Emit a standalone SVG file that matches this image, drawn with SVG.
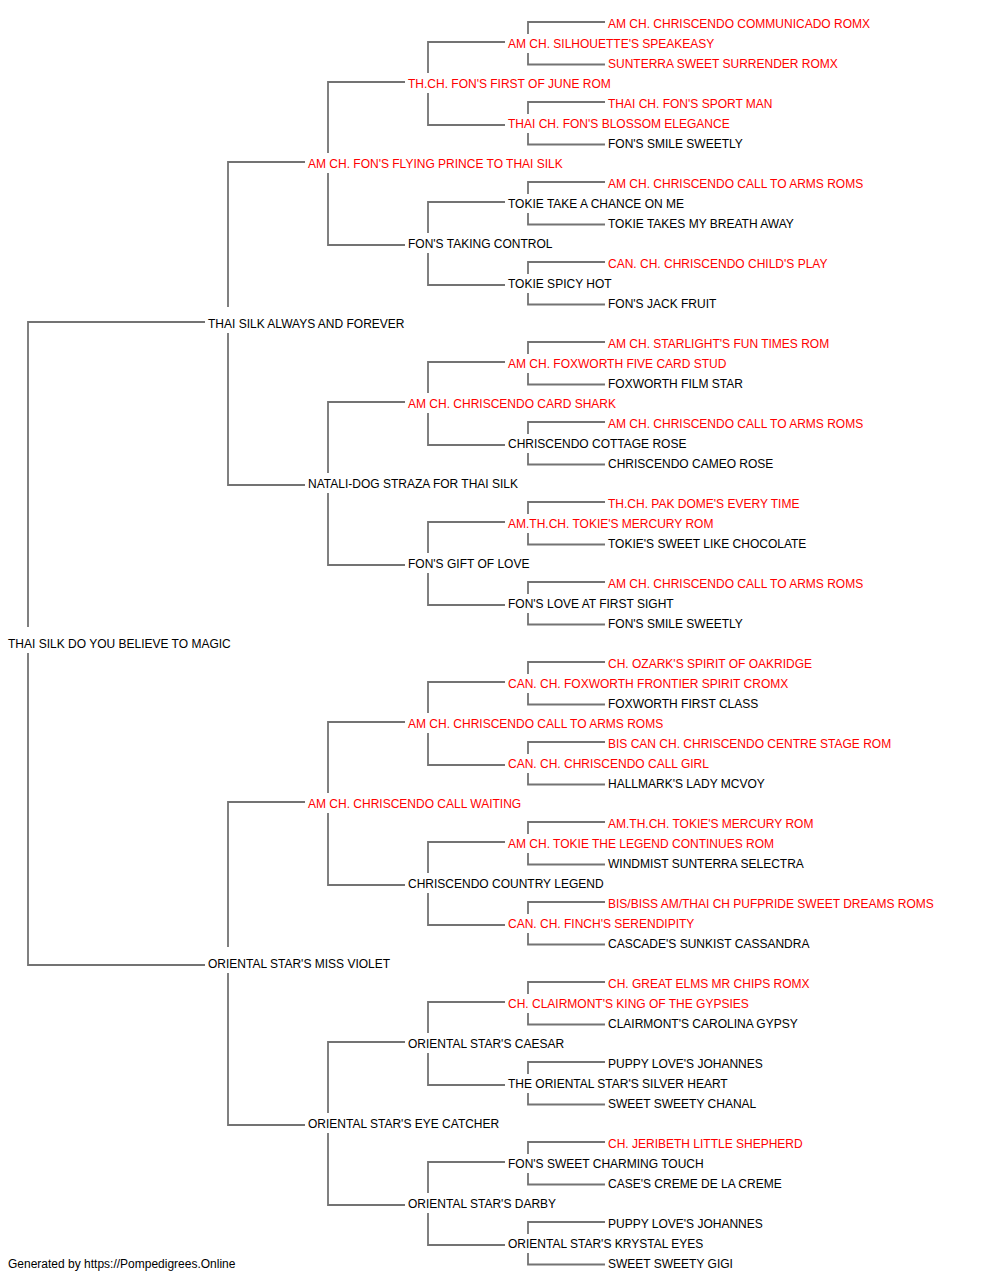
<svg xmlns="http://www.w3.org/2000/svg" width="1000" height="1280" viewBox="0 0 1000 1280">
<style>
text{font-family:"Liberation Sans",Arial,sans-serif;font-size:12px;fill:#000}
.r{fill:#ff0000}
.c path{fill:none;stroke:#737373;stroke-width:1.8}
</style>
<rect width="1000" height="1280" fill="#fff"/>
<g class="c" id="connectors">
<path d="M205 322H28V627M28 653V965H205"/>
<path d="M305 162H228V307M228 333V485H305"/>
<path d="M305 802H228V947M228 973V1125H305"/>
<path d="M405 82H328V153M328 173V245H405"/>
<path d="M405 402H328V473M328 493V565H405"/>
<path d="M405 722H328V793M328 813V885H405"/>
<path d="M405 1042H328V1113M328 1133V1205H405"/>
<path d="M505 42H428V73M428 93V125H505"/>
<path d="M505 202H428V233M428 253V285H505"/>
<path d="M505 362H428V393M428 413V445H505"/>
<path d="M505 522H428V553M428 573V605H505"/>
<path d="M505 682H428V713M428 733V765H505"/>
<path d="M505 842H428V873M428 893V925H505"/>
<path d="M505 1002H428V1033M428 1053V1085H505"/>
<path d="M505 1162H428V1193M428 1213V1245H505"/>
<path d="M605 22H528V34M528 53V64.5H605"/>
<path d="M605 102H528V114M528 133V144.5H605"/>
<path d="M605 182H528V194M528 213V224.5H605"/>
<path d="M605 262H528V274M528 293V304.5H605"/>
<path d="M605 342H528V354M528 373V384.5H605"/>
<path d="M605 422H528V434M528 453V464.5H605"/>
<path d="M605 502H528V514M528 533V544.5H605"/>
<path d="M605 582H528V594M528 613V624.5H605"/>
<path d="M605 662H528V674M528 693V704.5H605"/>
<path d="M605 742H528V754M528 773V784.5H605"/>
<path d="M605 822H528V834M528 853V864.5H605"/>
<path d="M605 902H528V914M528 933V944.5H605"/>
<path d="M605 982H528V994M528 1013V1024.5H605"/>
<path d="M605 1062H528V1074M528 1093V1104.5H605"/>
<path d="M605 1142H528V1154M528 1173V1184.5H605"/>
<path d="M605 1222H528V1234M528 1253V1264.5H605"/>
</g>
<g id="n0"><text x="8" y="648">THAI SILK DO YOU BELIEVE TO MAGIC</text></g>
<g id="n1"><text x="208" y="328">THAI SILK ALWAYS AND FOREVER</text></g>
<g id="n2"><text x="208" y="968">ORIENTAL STAR'S MISS VIOLET</text></g>
<g id="n3"><text class="r" x="308" y="168">AM CH. FON'S FLYING PRINCE TO THAI SILK</text></g>
<g id="n4"><text x="308" y="488">NATALI-DOG STRAZA FOR THAI SILK</text></g>
<g id="n5"><text class="r" x="308" y="808">AM CH. CHRISCENDO CALL WAITING</text></g>
<g id="n6"><text x="308" y="1128">ORIENTAL STAR'S EYE CATCHER</text></g>
<g id="n7"><text class="r" x="408" y="88">TH.CH. FON'S FIRST OF JUNE ROM</text></g>
<g id="n8"><text x="408" y="248">FON'S TAKING CONTROL</text></g>
<g id="n9"><text class="r" x="408" y="408">AM CH. CHRISCENDO CARD SHARK</text></g>
<g id="n10"><text x="408" y="568">FON'S GIFT OF LOVE</text></g>
<g id="n11"><text class="r" x="408" y="728">AM CH. CHRISCENDO CALL TO ARMS ROMS</text></g>
<g id="n12"><text x="408" y="888">CHRISCENDO COUNTRY LEGEND</text></g>
<g id="n13"><text x="408" y="1048">ORIENTAL STAR'S CAESAR</text></g>
<g id="n14"><text x="408" y="1208">ORIENTAL STAR'S DARBY</text></g>
<g id="n15"><text class="r" x="508" y="48">AM CH. SILHOUETTE'S SPEAKEASY</text></g>
<g id="n16"><text class="r" x="508" y="128">THAI CH. FON'S BLOSSOM ELEGANCE</text></g>
<g id="n17"><text x="508" y="208">TOKIE TAKE A CHANCE ON ME</text></g>
<g id="n18"><text x="508" y="288">TOKIE SPICY HOT</text></g>
<g id="n19"><text class="r" x="508" y="368">AM CH. FOXWORTH FIVE CARD STUD</text></g>
<g id="n20"><text x="508" y="448">CHRISCENDO COTTAGE ROSE</text></g>
<g id="n21"><text class="r" x="508" y="528">AM.TH.CH. TOKIE'S MERCURY ROM</text></g>
<g id="n22"><text x="508" y="608">FON'S LOVE AT FIRST SIGHT</text></g>
<g id="n23"><text class="r" x="508" y="688">CAN. CH. FOXWORTH FRONTIER SPIRIT CROMX</text></g>
<g id="n24"><text class="r" x="508" y="768">CAN. CH. CHRISCENDO CALL GIRL</text></g>
<g id="n25"><text class="r" x="508" y="848">AM CH. TOKIE THE LEGEND CONTINUES ROM</text></g>
<g id="n26"><text class="r" x="508" y="928">CAN. CH. FINCH'S SERENDIPITY</text></g>
<g id="n27"><text class="r" x="508" y="1008">CH. CLAIRMONT'S KING OF THE GYPSIES</text></g>
<g id="n28"><text x="508" y="1088">THE ORIENTAL STAR'S SILVER HEART</text></g>
<g id="n29"><text x="508" y="1168">FON'S SWEET CHARMING TOUCH</text></g>
<g id="n30"><text x="508" y="1248">ORIENTAL STAR'S KRYSTAL EYES</text></g>
<g id="n31"><text class="r" x="608" y="28">AM CH. CHRISCENDO COMMUNICADO ROMX</text></g>
<g id="n32"><text class="r" x="608" y="68">SUNTERRA SWEET SURRENDER ROMX</text></g>
<g id="n33"><text class="r" x="608" y="108">THAI CH. FON'S SPORT MAN</text></g>
<g id="n34"><text x="608" y="148">FON'S SMILE SWEETLY</text></g>
<g id="n35"><text class="r" x="608" y="188">AM CH. CHRISCENDO CALL TO ARMS ROMS</text></g>
<g id="n36"><text x="608" y="228">TOKIE TAKES MY BREATH AWAY</text></g>
<g id="n37"><text class="r" x="608" y="268">CAN. CH. CHRISCENDO CHILD'S PLAY</text></g>
<g id="n38"><text x="608" y="308">FON'S JACK FRUIT</text></g>
<g id="n39"><text class="r" x="608" y="348">AM CH. STARLIGHT'S FUN TIMES ROM</text></g>
<g id="n40"><text x="608" y="388">FOXWORTH FILM STAR</text></g>
<g id="n41"><text class="r" x="608" y="428">AM CH. CHRISCENDO CALL TO ARMS ROMS</text></g>
<g id="n42"><text x="608" y="468">CHRISCENDO CAMEO ROSE</text></g>
<g id="n43"><text class="r" x="608" y="508">TH.CH. PAK DOME'S EVERY TIME</text></g>
<g id="n44"><text x="608" y="548">TOKIE'S SWEET LIKE CHOCOLATE</text></g>
<g id="n45"><text class="r" x="608" y="588">AM CH. CHRISCENDO CALL TO ARMS ROMS</text></g>
<g id="n46"><text x="608" y="628">FON'S SMILE SWEETLY</text></g>
<g id="n47"><text class="r" x="608" y="668">CH. OZARK'S SPIRIT OF OAKRIDGE</text></g>
<g id="n48"><text x="608" y="708">FOXWORTH FIRST CLASS</text></g>
<g id="n49"><text class="r" x="608" y="748">BIS CAN CH. CHRISCENDO CENTRE STAGE ROM</text></g>
<g id="n50"><text x="608" y="788">HALLMARK'S LADY MCVOY</text></g>
<g id="n51"><text class="r" x="608" y="828">AM.TH.CH. TOKIE'S MERCURY ROM</text></g>
<g id="n52"><text x="608" y="868">WINDMIST SUNTERRA SELECTRA</text></g>
<g id="n53"><text class="r" x="608" y="908">BIS/BISS AM/THAI CH PUFPRIDE SWEET DREAMS ROMS</text></g>
<g id="n54"><text x="608" y="948">CASCADE'S SUNKIST CASSANDRA</text></g>
<g id="n55"><text class="r" x="608" y="988">CH. GREAT ELMS MR CHIPS ROMX</text></g>
<g id="n56"><text x="608" y="1028">CLAIRMONT'S CAROLINA GYPSY</text></g>
<g id="n57"><text x="608" y="1068">PUPPY LOVE'S JOHANNES</text></g>
<g id="n58"><text x="608" y="1108">SWEET SWEETY CHANAL</text></g>
<g id="n59"><text class="r" x="608" y="1148">CH. JERIBETH LITTLE SHEPHERD</text></g>
<g id="n60"><text x="608" y="1188">CASE'S CREME DE LA CREME</text></g>
<g id="n61"><text x="608" y="1228">PUPPY LOVE'S JOHANNES</text></g>
<g id="n62"><text x="608" y="1268">SWEET SWEETY GIGI</text></g>
<g id="footer"><text x="8" y="1268">Generated by https://Pompedigrees.Online</text></g>
</svg>
